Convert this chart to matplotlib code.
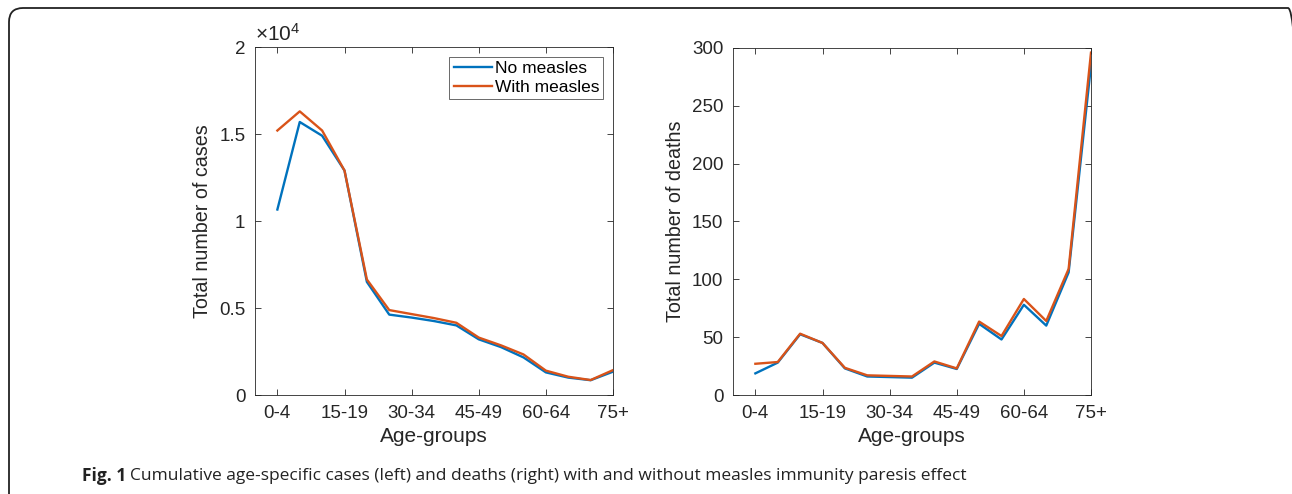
import matplotlib
matplotlib.use('Agg')
import matplotlib.pyplot as plt
from matplotlib.patches import FancyBboxPatch
from matplotlib.transforms import IdentityTransform
from matplotlib.ticker import FuncFormatter

# ── Data ────────────────────────────────────────────────────────────────
age_groups = ['0-4', '5-9', '10-14', '15-19', '20-24', '25-29', '30-34', '35-39',
              '40-44', '45-49', '50-54', '55-59', '60-64', '65-69', '70-74', '75+']
cases_no   = [10660, 15690, 14900, 12900, 6500, 4620, 4450, 4250,
              4000, 3200, 2750, 2160, 1300, 1000, 850, 1340]
cases_with = [15200, 16300, 15200, 12900, 6640, 4880, 4650, 4420,
              4150, 3300, 2850, 2330, 1400, 1050, 860, 1430]
deaths_no   = [18.7, 28, 52.5, 45, 23, 16, 15.5, 15, 28, 22.5, 61.5, 48, 78, 60, 106, 285]
deaths_with = [27, 28.5, 53, 45, 23.5, 17, 16.5, 16, 29, 23, 63.5, 51, 83, 64, 109, 296]

BLUE, ORANGE = '#0072BD', '#D95319'
GREY = '#262626'

plt.rcParams['font.family'] = ['Liberation Sans', 'DejaVu Sans']
plt.rcParams['mathtext.fontset'] = 'custom'
plt.rcParams['mathtext.rm'] = 'Liberation Sans'
plt.rcParams['mathtext.it'] = 'Liberation Sans'

W, H = 1292, 494
fig = plt.figure(figsize=(W / 100, H / 100), dpi=100)

x = list(range(len(age_groups)))
tick_pos = x[::3]
tick_lab = age_groups[::3]


def style(ax):
    ax.set_xlim(-1, len(age_groups) - 1)
    ax.set_xticks(tick_pos)
    ax.set_xticklabels(tick_lab)
    ax.tick_params(direction='in', top=True, right=True, length=4, width=0.6,
                   colors=GREY, labelsize=13.5, pad=7)
    for s in ax.spines.values():
        s.set_color(GREY)
        s.set_linewidth(0.6)
    ax.set_xlabel('Age-groups', fontsize=15, color=GREY, labelpad=4)


# left: cases
ax1 = fig.add_axes([255 / W, 1 - 395 / H, 358 / W, 348 / H])
ax1.plot(x, [v / 1e4 for v in cases_no], color=BLUE, lw=1.7, label='No measles')
ax1.plot(x, [v / 1e4 for v in cases_with], color=ORANGE, lw=1.7, label='With measles')
style(ax1)
ax1.set_ylim(0, 2)
ax1.set_yticks([0, 0.5, 1, 1.5, 2])
ax1.yaxis.set_major_formatter(FuncFormatter(lambda v, p: f'{v:g}'))
ax1.set_ylabel('Total number of cases', fontsize=14.2, color=GREY, labelpad=5)
ax1.text(0.0, 1.005, r'$\times10^{4}$', transform=ax1.transAxes, fontsize=15,
         color=GREY, ha='left', va='bottom')
leg = ax1.legend(loc='upper right', fontsize=12.5, frameon=True, fancybox=False,
                 handlelength=2.2, borderpad=0.25, labelspacing=0.2,
                 handletextpad=0.15, borderaxespad=0.55)
leg.get_frame().set_edgecolor(GREY)
leg.get_frame().set_linewidth(0.6)

# right: deaths
ax2 = fig.add_axes([733 / W, 1 - 395 / H, 358 / W, 347 / H])
ax2.plot(x, deaths_no, color=BLUE, lw=1.7)
ax2.plot(x, deaths_with, color=ORANGE, lw=1.7)
style(ax2)
ax2.set_ylim(0, 300)
ax2.set_yticks(range(0, 301, 50))
ax2.set_ylabel('Total number of deaths', fontsize=14.2, color=GREY, labelpad=5)

# rounded frame (pixel coordinates), running off the right and bottom edges
frame = FancyBboxPatch((9, -20), 1293, H - 8 + 20,
                       boxstyle='round,pad=0,rounding_size=14',
                       transform=IdentityTransform(), fill=False,
                       edgecolor='#222222', lw=1.3, clip_on=False)
fig.patches.append(frame)

fig.text(82 / W, 1 - 476 / H, 'Fig. 1', fontsize=12.5, fontweight='bold',
         family='Open Sans', color='#222222', va='center')
fig.text(130 / W, 1 - 476 / H,
         'Cumulative age-specific cases (left) and deaths (right) with and without measles immunity paresis effect',
         fontsize=12.5, family='Open Sans', color='#222222', va='center')

fig.savefig('out.png', dpi=100, facecolor='white')
